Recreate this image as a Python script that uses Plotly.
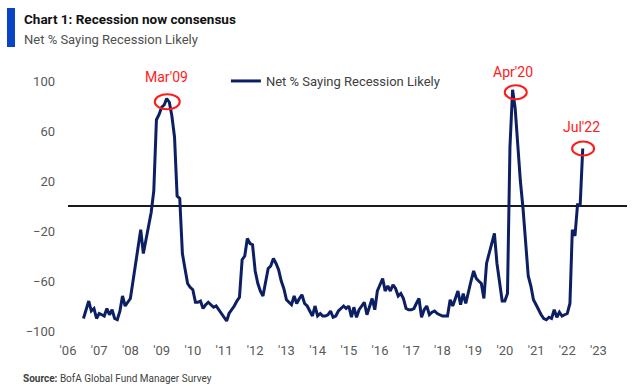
import pandas as pd
import plotly.graph_objects as go

# Monthly net % saying recession likely (Jul 2006 - Jul 2022)
v2006 = [-90, -82, -76, -84, -82, -90]
v2007 = [-86, -87, -88, -82, -87, -83, -90, -91, -84, -72, -80, -77]
v2008 = [-74, -60, -46, -32, -19, -38, -28, -15, -5, 12, 69, 73]
v2009 = [79, 81, 86, 83, 72, 55, 8, 6, -38, -50, -62, -65]
v2010 = [-67, -77, -77, -76, -82, -79, -77, -79, -81, -80, -83, -86]
v2011 = [-89, -92, -86, -83, -80, -76, -73, -43, -40, -26, -30, -31]
v2012 = [-52, -62, -68, -72, -60, -50, -48, -42, -46, -51, -60, -66]
v2013 = [-75, -77, -79, -72, -78, -74, -71, -78, -80, -84, -88, -80]
v2014 = [-88, -86, -88, -88, -87, -84, -89, -88, -84, -82, -80, -82]
v2015 = [-80, -89, -81, -89, -83, -80, -77, -87, -80, -74, -83, -68]
v2016 = [-63, -58, -68, -64, -68, -63, -66, -72, -70, -74, -82, -83]
v2017 = [-83, -82, -78, -74, -89, -83, -80, -87, -85, -84, -86, -87]
v2018 = [-88, -88, -88, -75, -80, -74, -68, -79, -70, -78, -68, -60]
v2019 = [-52, -58, -60, -62, -74, -46, -38, -30, -22, -46, -62, -76]
v2020 = [-76, -70, 47, 93, 78, 47, 20, -2, -30, -56, -64, -75]
v2021 = [-79, -84, -87, -90, -91, -89, -90, -83, -89, -85, -88, -87]
v2022 = [-86, -78, -19, -24, 1, 1, 46]

values = (v2006 + v2007 + v2008 + v2009 + v2010 + v2011 + v2012 + v2013 + v2014
          + v2015 + v2016 + v2017 + v2018 + v2019 + v2020 + v2021 + v2022)
dates = pd.date_range("2006-07-01", periods=len(values), freq="MS")

year_ticks = [f"{y}-01-01" for y in range(2006, 2024)]
year_labels = [f"'{y % 100:02d}" for y in range(2006, 2024)]
y_ticks = [-100, -60, -20, 20, 60, 100]

# label text, label x, label y (paper), circle x, circle y, circle w, circle h (px)
callouts = [
    ("Mar'09", "2009-03-01", 0.977, "2009-03-08", 83.4, 25, 15),
    ("Apr'20", "2020-04-01", 0.997, "2020-05-08", 91, 22, 14),
    ("Jul'22", "2022-06-15", 0.786, "2022-07-05", 46, 22, 14),
]

NAVY = "#0d1f63"
RED = "#ff1a1a"
GRAY = "#595959"
FONT = "Roboto"

fig = go.Figure()
fig.add_trace(go.Scatter(
    x=dates, y=values, mode="lines",
    name="Net % Saying Recession Likely",
    line=dict(color=NAVY, width=3),
))

annotations = []
shapes = []
for text, lx, ly, cx, cy, w, h in callouts:
    annotations.append(dict(x=lx, y=ly, xref="x", yref="paper", text=text, showarrow=False,
                            yanchor="middle",
                            font=dict(family=FONT, size=14, color=RED)))
    shapes.append(dict(type="circle", xref="x", yref="y", xsizemode="pixel", ysizemode="pixel",
                       xanchor=cx, yanchor=cy, x0=-w / 2, x1=w / 2, y0=-h / 2, y1=h / 2,
                       line=dict(color=RED, width=2)))

# plot area: left 68, right 627, top 71, bottom 331 (px)
def px(xp):
    return (xp - 68) / 559.0

def py(yp):
    return (331 - yp) / 260.0

# header bar
shapes.append(dict(type="rect", xref="paper", yref="paper", x0=px(7), x1=px(15),
                   y0=py(47), y1=py(8), fillcolor="#0a44c6", line=dict(width=0)))

annotations += [
    dict(xref="paper", yref="paper", x=px(22), y=py(19), xanchor="left", yanchor="middle",
         text="<b>Chart 1: Recession now consensus</b>", showarrow=False,
         font=dict(family=FONT, size=13.5, color="#111111")),
    dict(xref="paper", yref="paper", x=px(22), y=py(39), xanchor="left", yanchor="middle",
         text="Net % Saying Recession Likely", showarrow=False,
         font=dict(family=FONT, size=13, color="#505050")),
    dict(xref="paper", yref="paper", x=px(21), y=py(378), xanchor="left", yanchor="middle",
         text="<b>Source:</b> BofA Global Fund Manager Survey", showarrow=False,
         font=dict(family=FONT, size=10, color="#404040")),
]

fig.update_layout(
    width=640, height=386, autosize=False,
    margin=dict(l=68, r=13, t=71, b=55),
    paper_bgcolor="white", plot_bgcolor="white",
    font=dict(family=FONT, size=13, color=GRAY),
    showlegend=True,
    legend=dict(x=0.2825, y=py(81), xanchor="left", yanchor="middle", bgcolor="rgba(0,0,0,0)",
                font=dict(family=FONT, size=13, color="#404040")),
    annotations=annotations,
    shapes=shapes,
    xaxis=dict(type="date", range=["2006-01-01", "2023-12-01"], tickvals=year_ticks,
               ticktext=year_labels, showgrid=False, zeroline=False, showline=False,
               ticks="", ticklabelstandoff=10, tickfont=dict(size=13, color=GRAY)),
    yaxis=dict(range=[-100, 108], tickvals=y_ticks, showgrid=False, zeroline=True,
               zerolinecolor="#1a1a1a", zerolinewidth=1.5, showline=False, ticks="",
               ticklabelstandoff=12, tickfont=dict(size=13, color=GRAY)),
)

fig.write_html("out.html", config={"displayModeBar": False},
               post_script="document.body.style.margin='0';document.body.style.overflow='hidden';")
